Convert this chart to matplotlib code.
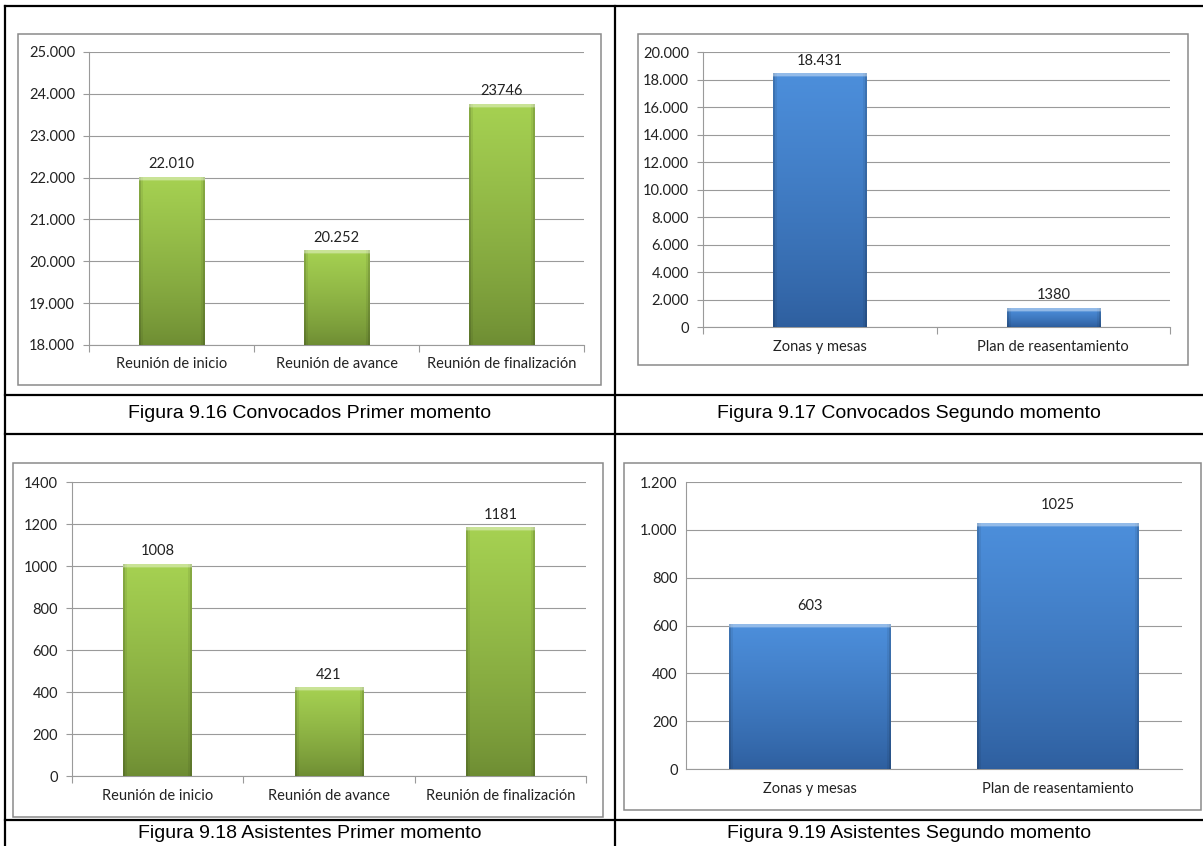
"""
Four bar charts (Figuras 9.16 - 9.19) laid out in a 2x2 table with captions.
"""

import numpy as np
import matplotlib
matplotlib.use("Agg")
import matplotlib.pyplot as plt
from matplotlib.lines import Line2D
from matplotlib.patches import Rectangle

W, H = 1203, 846

# ---- data -----------------------------------------------------------------
reuniones = ["Reunión de inicio", "Reunión de avance", "Reunión de finalización"]
momento2 = ["Zonas y mesas", "Plan de reasentamiento"]

convocados_1 = [22010, 20252, 23746]
convocados_1_labels = ["22.010", "20.252", "23746"]

convocados_2 = [18431, 1380]
convocados_2_labels = ["18.431", "1380"]

asistentes_1 = [1008, 421, 1181]
asistentes_1_labels = ["1008", "421", "1181"]

asistentes_2 = [603, 1025]
asistentes_2_labels = ["603", "1025"]

captions = [
    "Figura 9.16 Convocados Primer momento",
    "Figura 9.17 Convocados Segundo momento",
    "Figura 9.18 Asistentes Primer momento",
    "Figura 9.19 Asistentes Segundo momento",
]

GREEN = ((0.65, 0.82, 0.32), (0.43, 0.55, 0.20))   # top, bottom
BLUE = ((0.30, 0.56, 0.86), (0.18, 0.37, 0.62))

TXT = "#222222"
GRID = "#9a9a9a"
CHART_FONT = "Lato"

plt.rcParams.update({"font.family": CHART_FONT, "font.size": 10.5})


def fig_rect(x0, y0, x1, y1):
    return [x0 / W, 1 - y1 / H, (x1 - x0) / W, (y1 - y0) / H]


def dot_fmt(v):
    return f"{v:,.0f}".replace(",", ".")


def gradient_bar(ax, rect, colors):
    """Fill a bar rectangle with a vertical gradient and a light top bevel."""
    x, y, w, h = rect.get_x(), rect.get_y(), rect.get_width(), rect.get_height()
    p0 = ax.transData.transform((x, y))
    p1 = ax.transData.transform((x + w, y + h))
    nrows = max(int(round(p1[1] - p0[1])), 4)
    ncols = max(int(round(p1[0] - p0[0])), 4)

    top, bot = np.array(colors[0]), np.array(colors[1])
    t = np.linspace(0, 1, nrows)[:, None]
    col = bot + (top - bot) * t ** 0.8
    img = np.repeat(col[:, None, :], ncols, axis=1)

    # darker side edges
    edge = np.ones(ncols)
    edge[:2] = 0.82
    edge[-2:] = 0.82
    edge[2:4] = 0.93
    edge[-4:-2] = 0.93
    img = img * edge[None, :, None]

    # light bevel along the top
    img[-3:, :, :] = img[-3:, :, :] * 0.6 + 0.4
    img[-4, :, :] = img[-4, :, :] * 0.85 + 0.15
    img = np.clip(img, 0, 1)

    ax.imshow(img, extent=[x, x + w, y, y + h], origin="lower",
              aspect="auto", interpolation="bilinear", zorder=3)
    rect.set_visible(False)


def draw_chart(box, area, cats, vals, labels, colors, ylim, step,
               fmt, width, boundary_ticks=True, label_pad=6):
    fig.add_artist(Rectangle((box[0] / W, 1 - box[3] / H),
                             (box[2] - box[0]) / W, (box[3] - box[1]) / H,
                             transform=fig.transFigure, fill=False,
                             edgecolor="#8a8a8a", lw=1.1))

    ax = fig.add_axes(fig_rect(*area))
    x = np.arange(len(cats))
    ax.set_xlim(-0.5, len(cats) - 0.5)
    ax.set_ylim(*ylim)

    bars = ax.bar(x, [v - ylim[0] for v in vals], bottom=ylim[0],
                  width=width, color=colors[0], zorder=3)
    for r in bars:
        gradient_bar(ax, r, colors)
    ax.set_xlim(-0.5, len(cats) - 0.5)
    ax.set_ylim(*ylim)

    for xi, v, lab in zip(x, vals, labels):
        ax.annotate(lab, (xi, v), xytext=(0, label_pad),
                    textcoords="offset pixels", ha="center", va="bottom",
                    color=TXT, fontsize=10.5)

    ticks = np.arange(ylim[0], ylim[1] + step / 2, step)
    ax.set_yticks(ticks)
    ax.set_yticklabels([fmt(t) for t in ticks])
    ax.yaxis.grid(True, color=GRID, lw=0.8)
    ax.set_axisbelow(True)

    ax.set_xticks(x)
    ax.set_xticklabels(cats)
    ax.tick_params(axis="x", length=0, pad=9, colors=TXT, labelsize=10.5)
    ax.tick_params(axis="y", length=4 if boundary_ticks else 0, width=0.8,
                   color=GRID, pad=6, colors=TXT, labelsize=10.5)
    ax.tick_params(axis="y", color=GRID)
    if boundary_ticks:
        ax.set_xticks(np.arange(-0.5, len(cats)), minor=True)
        ax.tick_params(axis="x", which="minor", length=5, width=0.8,
                       color=GRID)

    for s in ("top", "right"):
        ax.spines[s].set_visible(False)
    for s in ("left", "bottom"):
        ax.spines[s].set_color(GRID)
        ax.spines[s].set_linewidth(0.8)
    ax.patch.set_alpha(0)
    return ax


fig = plt.figure(figsize=(W / 100, H / 100), dpi=100)
fig.patch.set_facecolor("white")

draw_chart((18, 34, 601, 385), (89, 52, 584, 345), reuniones, convocados_1,
           convocados_1_labels, GREEN, (18000, 25000), 1000, dot_fmt, 0.4)
draw_chart((638, 34, 1188, 365), (703, 52, 1170, 327), momento2, convocados_2,
           convocados_2_labels, BLUE, (0, 20000), 2000, dot_fmt, 0.4)
draw_chart((13, 463, 603, 817), (72, 482, 586, 776), reuniones, asistentes_1,
           asistentes_1_labels, GREEN, (0, 1400), 200, lambda v: f"{v:.0f}", 0.4)
draw_chart((624, 463, 1201, 810), (686, 482, 1182, 769), momento2, asistentes_2,
           asistentes_2_labels, BLUE, (0, 1200), 200, dot_fmt, 0.65,
           boundary_ticks=False, label_pad=12)

# ---- table lines ----------------------------------------------------------
def hline(y, x0=5, x1=W):
    fig.add_artist(Line2D([x0 / W, x1 / W], [1 - y / H, 1 - y / H],
                          transform=fig.transFigure, color="black", lw=1.6))


def vline(x, y0=6, y1=H):
    fig.add_artist(Line2D([x / W, x / W], [1 - y0 / H, 1 - y1 / H],
                          transform=fig.transFigure, color="black", lw=1.6))


for y in (6, 395, 434, 820):
    hline(y)
for x in (5, 615):
    vline(x)

# ---- captions -------------------------------------------------------------
cap_pos = [(310, 414), (909, 414), (310, 833), (909, 833)]
for (cx, cy), cap in zip(cap_pos, captions):
    fig.text(cx / W, 1 - cy / H, cap, ha="center", va="center",
             fontsize=14, family="Liberation Sans", color="black")

fig.savefig("out.png", dpi=100)
